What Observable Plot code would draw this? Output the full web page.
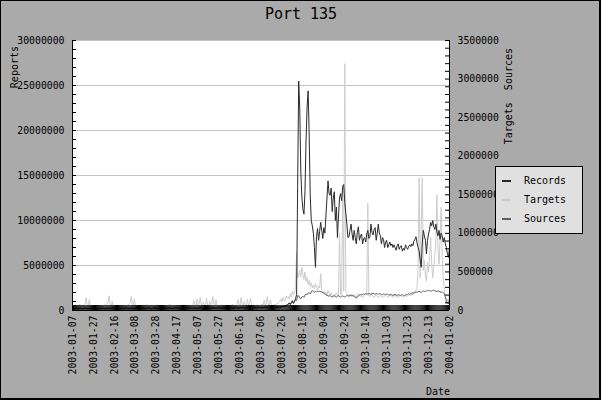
<!DOCTYPE html>
<html><head><meta charset="utf-8">
<script src="https://cdn.jsdelivr.net/npm/d3@7"></script>
<script src="https://cdn.jsdelivr.net/npm/@observablehq/plot@0.6"></script>
<style>
html,body{margin:0;padding:0;background:#aaaaaa;}
#wrap{position:relative;width:601px;height:400px;background:#aaaaaa;overflow:hidden;font-family:"DejaVu Sans Mono",monospace;}
#chart{position:absolute;left:0;top:0;}
#border{position:absolute;left:0;top:0;width:601px;height:400px;box-sizing:border-box;border:1px solid #000;border-right-width:2px;border-bottom-width:2px;pointer-events:none;}
#legend{position:absolute;left:495px;top:166px;width:88px;height:68px;box-sizing:border-box;background:#e0e0e0;border:1px solid #000;}
.li{position:absolute;left:0;height:14px;font-size:10px;line-height:14px;color:#000;}
.li span.m{position:absolute;left:6px;top:6px;width:9px;height:2px;}
.li span.t{position:absolute;left:28px;top:0;white-space:nowrap;}
</style>
</head><body>
<div id="wrap">
  <div id="chart"></div>
  <div id="legend"></div>
  <div id="border"></div>
</div>
<script>
// daily series from 2003-01-07 to 2004-01-02, values in thousands
const startDate = "2003-01-07";
const records = [
 180,210,190,230,200,170,220,240,210,190,200,230,260,220,180,170,210,250,230,200,190,220,240,210,230,
 200,180,210,240,220,190,170,200,230,250,210,190,220,240,200,180,210,230,260,220,200,190,220,240,210,230,250,220,
 210,190,230,250,220,200,180,210,240,260,230,200,190,220,250,240,210,200,230,260,240,220,200,190,230,250,270,240,210,220,230,
 250,220,210,240,260,230,200,220,250,270,240,220,210,230,260,280,250,220,200,230,250,270,240,220,210,240,260,280,250,230,
 220,240,260,250,230,210,240,270,290,260,240,220,230,260,280,250,230,220,250,270,290,260,240,230,250,280,300,270,250,240,260,
 280,260,240,250,270,300,280,260,240,260,290,310,280,260,250,270,300,320,290,270,260,280,300,310,290,270,260,290,310,300,
 290,280,300,320,310,290,280,300,330,350,320,300,290,310,340,360,330,310,300,330,360,380,350,340,380,420,460,430,480,520,560,
 700,850,650,900,1100,800,1000,1300,1800,13800,25500,22500,15500,12600,11300,10700,13200,18800,22600,24400,19500,12800,10000,9400,8600,7000,4800,8200,9100,7800,8800,
 9800,8900,8000,9200,8600,10500,12500,14400,13000,12800,13600,11000,12500,13200,10000,11500,8100,10500,12500,13000,12200,13800,14000,12000,10800,9600,8100,8200,8900,9600,
 8500,7800,8900,8100,7400,8700,9300,7800,8300,8500,7400,8000,8100,7600,8500,8900,8000,8200,9600,8700,8400,9000,9200,7800,8600,9600,8600,8300,7400,8100,7900,
 7000,7600,7800,7000,7300,7600,7200,7400,7000,7300,7000,6700,7200,7400,6800,7100,7200,6600,6900,6700,7300,7000,6800,7100,7300,7100,7400,7200,7700,7900,
 8200,7500,7000,6600,5600,4800,7500,8900,8300,7800,6300,7800,8500,9000,9800,9400,10000,9300,9000,9600,8700,8300,8900,7900,8600,8300,7600,8100,7400,7000,6300,
 5900,7000
];
const targets = [
 50,60,45,70,55,40,65,80,60,55,50,70,90,170,80,60,140,70,55,60,45,65,50,40,60,
 55,70,60,50,45,65,75,60,80,110,190,70,60,120,65,50,55,70,60,45,50,65,55,60,70,50,45,60,
 70,80,100,180,75,60,150,70,55,50,65,60,45,55,70,60,50,65,80,60,55,50,70,65,60,55,45,60,75,60,50,
 55,60,70,50,45,65,60,55,70,80,60,50,55,65,60,45,50,70,60,55,65,75,60,50,55,60,70,65,55,60,
 60,70,130,80,60,150,70,90,170,75,60,110,65,80,160,70,60,120,75,90,180,80,65,140,70,60,55,65,70,60,50,
 60,55,65,70,60,50,55,70,80,65,60,55,70,140,90,70,170,80,65,120,75,60,150,70,90,160,70,60,65,55,
 60,70,65,55,60,70,80,75,130,70,90,180,80,70,140,75,65,70,80,75,90,85,100,120,150,110,170,140,120,190,160,
 180,150,220,170,250,200,230,320,750,420,480,520,430,560,470,400,500,380,430,340,390,310,360,290,330,280,350,300,270,320,290,
 480,260,230,250,210,240,200,260,220,190,230,200,180,210,190,230,200,180,1000,200,230,1550,250,3200,260,220,200,190,210,180,
 200,180,210,190,170,200,220,190,180,200,170,190,210,200,220,1390,190,180,200,210,180,170,190,200,180,170,190,200,180,170,190,
 180,200,190,170,180,200,190,180,170,190,200,180,170,190,180,200,190,170,180,190,200,180,190,200,210,190,220,200,230,250,
 260,300,550,1720,420,1100,1720,520,650,450,380,620,500,700,950,600,420,560,720,900,1500,800,600,900,1340,700,420,300,130,90,150,
 120,200
];
const sources = [
 25,30,28,32,26,24,30,34,29,27,26,31,35,30,27,25,29,33,31,28,26,30,32,28,30,
 29,27,31,34,30,28,26,29,33,35,31,28,30,34,29,27,30,32,36,31,29,28,31,34,30,32,35,31,
 30,28,32,35,31,29,27,30,34,36,32,29,28,31,35,33,30,29,32,36,34,31,29,28,32,35,37,33,30,31,32,
 34,31,30,33,36,32,29,31,35,37,33,31,30,32,36,38,35,31,29,32,35,37,33,31,30,33,36,38,35,32,
 31,33,36,35,32,30,33,37,39,36,33,31,32,36,38,35,32,31,35,37,39,36,33,32,35,38,40,37,35,33,36,
 38,36,33,35,37,40,38,36,33,36,39,41,38,36,35,37,40,42,39,37,36,38,40,41,39,37,36,39,41,40,
 39,38,40,42,41,39,38,40,43,45,42,40,39,41,44,46,43,41,40,43,46,48,45,44,48,52,58,55,62,68,75,
 80,95,85,100,110,95,120,140,130,195,190,160,150,175,185,170,200,215,205,225,230,215,240,260,245,235,250,240,255,245,250,
 245,240,230,225,215,205,195,190,185,195,180,175,185,190,180,175,185,195,180,175,185,190,180,175,185,195,190,185,195,200,
 195,190,185,170,160,175,190,200,205,210,205,215,210,220,215,210,220,215,210,220,225,215,210,220,215,210,220,215,205,210,215,
 210,205,215,210,200,205,210,200,195,205,210,200,195,205,200,195,200,205,195,190,200,205,210,215,210,220,225,230,225,235,
 240,235,245,250,240,235,245,255,250,245,255,260,255,260,250,255,260,265,255,250,245,255,250,240,235,245,230,215,180,130,95,
 90,140
];
const xTickLabels = ["2003-01-07","2003-01-27","2003-02-16","2003-03-08","2003-03-28","2003-04-17","2003-05-07","2003-05-27","2003-06-16","2003-07-06","2003-07-26","2003-08-15","2003-09-04","2003-09-24","2003-10-14","2003-11-03","2003-11-23","2003-12-13","2004-01-02"];
const leftTicks = [0,5000000,10000000,15000000,20000000,25000000,30000000];
const rightTicks = [0,500000,1000000,1500000,2000000,2500000,3000000,3500000];
const seriesNames = ["Records","Targets","Sources"];
const seriesColors = ["#2a2a2a","#cccccc","#606060"];

const parse = d3.utcParse("%Y-%m-%d");
const t0 = parse(startDate);
const dateAt = i => d3.utcDay.offset(t0, i);
const k = 30000000 / 3500000;
const recData = records.map((v,i)=>({date: dateAt(i), value: v*1000}));
const tgtData = targets.map((v,i)=>({date: dateAt(i), value: v*1000*k}));
const srcData = sources.map((v,i)=>({date: dateAt(i), value: v*1000*k}));
const xDomain = [parse(xTickLabels[0]), parse(xTickLabels[xTickLabels.length-1])];
const dayTicks = d3.utcDay.range(xDomain[0], d3.utcDay.offset(xDomain[1], 1));
const leftMinor = d3.range(0, 30000001, 1000000);
const rightMinor = d3.range(0, 3500001, 100000).map(v => v*k);
const plotW = 601 - 72 - 152, plotH = 400 - 40 - 90;

const chart = Plot.plot({
  width: 601, height: 400,
  marginLeft: 72, marginRight: 152, marginTop: 40, marginBottom: 90,
  style: {background: "transparent", fontFamily: "DejaVu Sans Mono", fontSize: "9.8px", color: "#000", overflow: "visible"},
  x: {type: "utc", domain: xDomain},
  y: {domain: [0, 30000000]},
  marks: [
    Plot.frame({fill: "#ffffff", stroke: "none"}),
    Plot.gridY(leftTicks, {stroke: "#c4c4c4", strokeOpacity: 1}),
    Plot.line(tgtData, {x: "date", y: "value", stroke: seriesColors[1], strokeWidth: 1}),
    Plot.line(srcData, {x: "date", y: "value", stroke: seriesColors[2], strokeWidth: 1}),
    Plot.line(recData, {x: "date", y: "value", stroke: seriesColors[0], strokeWidth: 1}),
    Plot.tickX(dayTicks, {x: d => d, insetTop: plotH - 5, stroke: "#000"}),
    Plot.tickY(leftMinor, {y: d => d, insetRight: plotW - 4, stroke: "#000"}),
    Plot.tickY(rightMinor, {y: d => d, insetLeft: plotW - 4, stroke: "#000"}),
    Plot.ruleX(xDomain, {stroke: "#000"}),
    Plot.ruleY([0], {stroke: "#000"}),
    Plot.axisY(leftTicks, {anchor: "left", tickSize: 0, tickPadding: 8, tickFormat: d => String(d), label: null}),
    Plot.axisY(rightTicks.map(v => v*k), {anchor: "right", tickSize: 0, tickPadding: 8, tickFormat: d => String(Math.round(d/k)), label: null}),
    Plot.axisX(xTickLabels.map(parse), {anchor: "bottom", tickSize: 0, tickPadding: 5, tickRotate: -90, tickFormat: d3.utcFormat("%Y-%m-%d"), label: null})
  ]
});
document.getElementById("chart").appendChild(chart);

const svg = d3.select(chart);
svg.append("text").attr("x", 301).attr("y", 19).attr("text-anchor", "middle")
  .attr("font-size", 15).attr("fill", "#000").text("Port 135");
svg.append("text").attr("transform", "translate(18,46) rotate(-90)").attr("text-anchor", "end")
  .attr("font-size", 10).attr("fill", "#000").text("Reports");
svg.append("text").attr("transform", "translate(512,48) rotate(-90)").attr("text-anchor", "end")
  .attr("font-size", 10).attr("fill", "#000").attr("xml:space","preserve").style("white-space","pre").text("Targets  Sources");
svg.append("text").attr("x", 450).attr("y", 395).attr("text-anchor", "end")
  .attr("font-size", 10).attr("fill", "#000").text("Date");

const legend = document.getElementById("legend");
seriesNames.forEach((n, i) => {
  const row = document.createElement("div");
  row.className = "li";
  row.style.top = (7 + i*19) + "px";
  row.style.width = "86px";
  row.innerHTML = `<span class="m" style="background:${seriesColors[i]}"></span><span class="t">${n}</span>`;
  legend.appendChild(row);
});
</script>
</body></html>
